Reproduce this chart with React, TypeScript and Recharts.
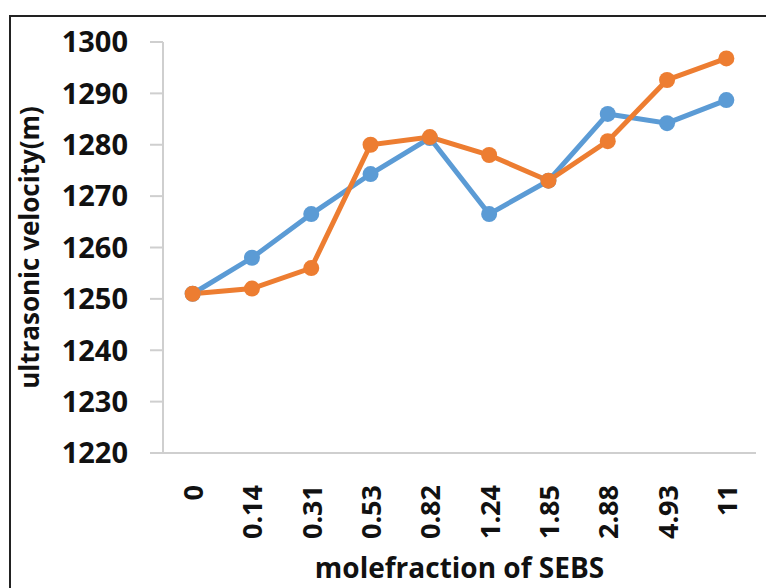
import React from "react";
import { LineChart, Line, XAxis, YAxis } from "recharts";

const categories = ["0", "0.14", "0.31", "0.53", "0.82", "1.24", "1.85", "2.88", "4.93", "11"];
const blueValues = [1251, 1258, 1266.5, 1274.3, 1281.3, 1266.5, 1273, 1286, 1284.2, 1288.7];
const orangeValues = [1251, 1252, 1256, 1280, 1281.5, 1278, 1273, 1280.7, 1292.6, 1296.8];
const yTicks = [1220, 1230, 1240, 1250, 1260, 1270, 1280, 1290, 1300];

const BLUE = "#5B9BD5";
const ORANGE = "#ED7D31";
const AXIS_GREY = "#cfcfcf";
const FONT = "'Open Sans', sans-serif";

const data = categories.map((c, i) => ({ name: c, blue: blueValues[i], orange: orangeValues[i] }));

function XTick(props: any) {
  const { x, y, payload } = props;
  return (
    <text
      x={x}
      y={y + 24}
      transform={`rotate(-90, ${x}, ${y + 24})`}
      textAnchor="end"
      dominantBaseline="central"
      fontFamily={FONT}
      fontWeight={700}
      fontSize={27}
      fill="#111"
    >
      {payload.value}
    </text>
  );
}

export default function App() {
  return (
    <div
      style={{
        position: "absolute",
        left: 0,
        top: 0,
        width: 766,
        height: 588,
        overflow: "hidden",
        background: "#fff",
      }}
    >
      {/* outer frame of the original picture */}
      <div
        style={{
          position: "absolute",
          left: 9,
          top: 15,
          width: 800,
          height: 640,
          border: "2px solid #222",
          boxSizing: "border-box",
        }}
      />
      <div style={{ position: "absolute", left: 0, top: 0 }}>
        <LineChart width={766} height={588} data={data} margin={{ top: 42, right: 10, left: 0, bottom: 0 }}>
          <XAxis
            dataKey="name"
            scale="band"
            height={135}
            axisLine={{ stroke: AXIS_GREY, strokeWidth: 2 }}
            tickLine={false}
            tick={<XTick />}
            interval={0}
            label={{
              value: "molefraction of SEBS",
              position: "insideBottom",
              offset: 10,
              style: { fontFamily: FONT, fontWeight: 700, fontSize: 28, fill: "#111" },
            }}
          />
          <YAxis
            width={163}
            domain={[1220, 1300]}
            ticks={yTicks}
            interval={0}
            tickSize={13}
            tickMargin={22}
            axisLine={{ stroke: AXIS_GREY, strokeWidth: 2 }}
            tickLine={{ stroke: AXIS_GREY, strokeWidth: 2 }}
            tick={{ fontFamily: FONT, fontWeight: 700, fontSize: 29, fill: "#111" }}
            label={{
              value: "ultrasonic velocity(m)",
              angle: -90,
              position: "insideLeft",
              offset: 30,
              style: { textAnchor: "middle", fontFamily: FONT, fontWeight: 700, fontSize: 26, fill: "#111" },
            }}
          />
          <Line
            dataKey="blue"
            stroke={BLUE}
            strokeWidth={5}
            dot={{ r: 8, fill: BLUE, stroke: "none" }}
            activeDot={false}
            isAnimationActive={false}
          />
          <Line
            dataKey="orange"
            stroke={ORANGE}
            strokeWidth={5}
            dot={{ r: 8, fill: ORANGE, stroke: "none" }}
            activeDot={false}
            isAnimationActive={false}
          />
        </LineChart>
      </div>
    </div>
  );
}
